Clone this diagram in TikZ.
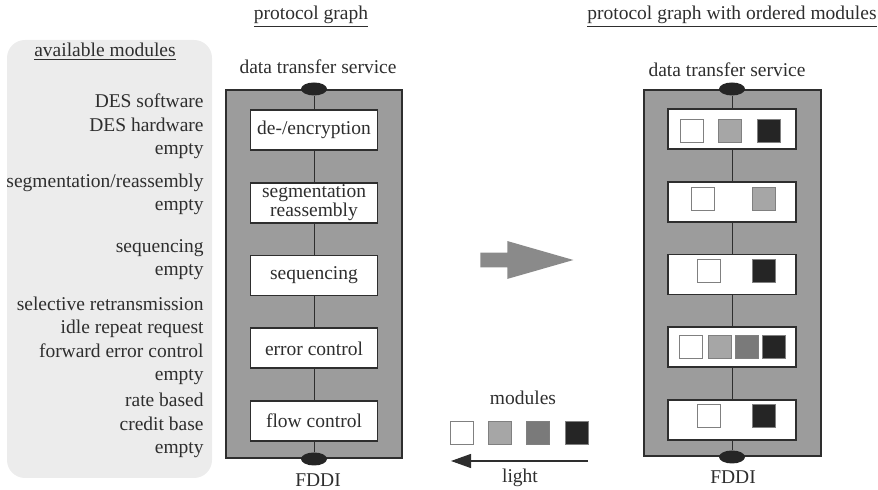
\documentclass[tikz,border=0pt]{standalone}
\usepackage{fontspec}
\setmainfont{Liberation Serif}
\usetikzlibrary{arrows.meta,positioning,shapes.geometric,shapes.arrows}

\definecolor{ink}{HTML}{2E2E2E}
\definecolor{panelgray}{HTML}{ECECEC}
\definecolor{graphgray}{HTML}{9C9C9C}
\definecolor{arrowgray}{HTML}{8A8A8A}
\definecolor{modlight}{HTML}{A6A6A6}
\definecolor{modmid}{HTML}{7A7A7A}
\definecolor{moddark}{HTML}{252525}

\begin{document}
\begin{tikzpicture}[
    x=0.5pt, y=-0.5pt,
    node distance=15.5pt,
    every node/.style={text=ink, font=\fontsize{9.75}{11.7}\selectfont},
    list/.style={anchor=east, align=right, inner sep=0pt},
    graph/.style={draw=ink, line width=1pt, fill=graphgray, minimum width=88pt, minimum height=184pt},
    layer/.style={draw=ink, line width=0.9pt, fill=white, minimum width=63.5pt, minimum height=20pt, inner sep=0pt, align=center},
    port/.style={ellipse, fill=moddark, minimum width=13pt, minimum height=6.5pt, inner sep=0pt},
    wire/.style={draw=ink, line width=0.5pt},
    mod/.style={draw=black!50, line width=0.5pt, minimum size=11.5pt, inner sep=0pt}
]
\useasboundingbox (0,0) rectangle (878,490);

% module catalogue on the left
\fill[panelgray, rounded corners=9pt] (7,40) rectangle (212,478);
\node (availTitle) at (105,52) {\underline{available modules}};
\node[list] (desList) at (204,126.5) {DES software\\DES hardware\\empty};
\node[list] (segList) at (204,194.5) {segmentation/reassembly\\empty};
\node[list] (seqList) at (204,259.5) {sequencing\\empty};
\node[list] (errList) at (204,341) {selective retransmission\\idle repeat request\\forward error control\\empty};
\node[list] (flowList) at (204,425.5) {rate based\\credit base\\empty};

% protocol graph
\node (titleL) at (311,17) {\underline{protocol graph}};
\node[graph] (graphL) at (314,274) {};
\node (dtsL) at (318,67) {data transfer service};
\node (fddiL) at (318,480) {FDDI};
\node[layer] (encL) at (314,130) {de-/encryption};
\node[layer, below=of encL, font=\fontsize{9.75}{9.6}\selectfont] (segL) {segmentation\\reassembly};
\node[layer, below=of segL] (seqL) {sequencing};
\node[layer, below=of seqL] (errL) {error control};
\node[layer, below=of errL] (flowL) {flow control};
\node[port] (topL) at (graphL.north) {};
\node[port] (botL) at (graphL.south) {};
\draw[wire] (topL) -- (encL) -- (segL) -- (seqL) -- (errL) -- (flowL) -- (botL);

% ordering step
\node[single arrow, fill=arrowgray, minimum height=46.5pt, minimum width=18.5pt,
      single arrow head extend=5.75pt, single arrow tip angle=32, inner sep=3.5pt,
      anchor=tail] (mapArrow) at (480,260) {};

% legend of module shades
\node (modLabel) at (523,398) {modules};
\node[mod, fill=white] (lg1) at (461.5,433) {};
\node[mod, fill=modlight] (lg2) at (500,433) {};
\node[mod, fill=modmid] (lg3) at (538,433) {};
\node[mod, fill=moddark] (lg4) at (576.5,433) {};
\coordinate (lightR) at (588,461);
\coordinate (lightL) at (451,461);
\draw[wire, line width=0.6pt, -{Triangle[length=10pt,width=7pt]}] (lightR) -- (lightL);
\node (lightLabel) at (520,478) {light};

% protocol graph with ordered modules
\node (titleR) at (732,17) {\underline{protocol graph with ordered modules}};
\node[graph, minimum width=88.5pt, minimum height=183pt] (graphR) at (732,273) {};
\node (dtsR) at (727,70) {data transfer service};
\node (fddiR) at (733,477) {FDDI};
\node[layer, minimum width=64pt] (r1) at (732,129) {};
\node[layer, minimum width=64pt, below=of r1] (r2) {};
\node[layer, minimum width=64pt, below=of r2] (r3) {};
\node[layer, minimum width=64pt, below=of r3] (r4) {};
\node[layer, minimum width=64pt, below=of r4] (r5) {};
\node[port] (topR) at (graphR.north) {};
\node[port] (botR) at (graphR.south) {};
\draw[wire] (topR) -- (r1) -- (r2) -- (r3) -- (r4) -- (r5) -- (botR);

\node[mod, fill=white] (m11) at (691.5,131.5) {};
\node[mod, fill=modlight] (m12) at (729.5,131.5) {};
\node[mod, fill=moddark] (m13) at (768.5,131.5) {};

\node[mod, fill=white] (m21) at (702.5,199) {};
\node[mod, fill=modlight] (m22) at (763.5,199) {};

\node[mod, fill=white] (m31) at (708.5,271) {};
\node[mod, fill=moddark] (m32) at (763.5,271) {};

\node[mod, fill=white] (m41) at (690.5,347) {};
\node[mod, fill=modlight] (m42) at (719.5,347) {};
\node[mod, fill=modmid] (m43) at (746.5,347) {};
\node[mod, fill=moddark] (m44) at (773.5,347) {};

\node[mod, fill=white] (m51) at (708.5,416) {};
\node[mod, fill=moddark] (m52) at (763.5,416) {};
\end{tikzpicture}
\end{document}
